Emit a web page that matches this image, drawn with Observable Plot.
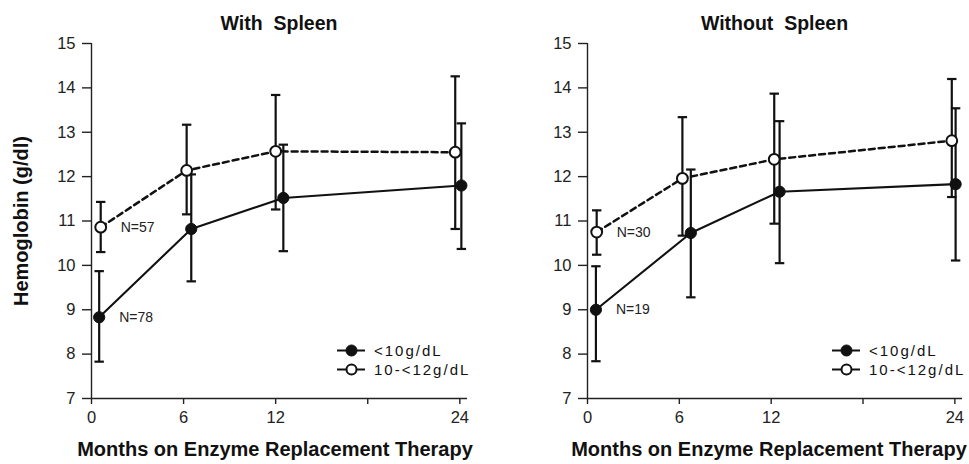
<!DOCTYPE html>
<html>
<head>
<meta charset="utf-8">
<script src="https://cdn.jsdelivr.net/npm/d3@7"></script>
<script src="https://cdn.jsdelivr.net/npm/@observablehq/plot@0.6"></script>
<style>
  body { margin: 0; background: #fff; font-family: "Liberation Sans", Arial, Helvetica, sans-serif; color: #111; }
  #root { position: relative; width: 969px; height: 464px; overflow: hidden; background: #fff; }
  .panel { position: absolute; top: 0; }
  .title { position: absolute; top: 14px; font-weight: bold; font-size: 19.5px; line-height: 19.5px; white-space: pre; transform: translateX(-50%); color: #111; }
  .xtitle { position: absolute; top: 439px; font-weight: bold; font-size: 20px; line-height: 20px; white-space: pre; transform: translateX(-50%); color: #111; }
  .legend { position: absolute; font-size: 15px; letter-spacing: 2px; color: #111; }
  .legend .row { display: flex; align-items: center; height: 19px; }
  .legend svg { display: block; }
  .legend span { margin-left: 8px; line-height: 19px; }
  .panel svg g[aria-label="y-axis label"] text { font-weight: bold; font-size: 20px !important; fill: #111; }
  .panel svg g[aria-label*="tick label"] text { fill: #222; font-size: 16.5px !important; }
  .panel svg g[aria-label="n label"] text { font-size: 14px !important; fill: #222; }
</style>
</head>
<body>
<div id="root"></div>
<script>
// ---- data ----
const panelTitles = ["With  Spleen", "Without  Spleen"];
const seriesNames = ["<10g/dL", "10-<12g/dL"];
const xTitle = "Months on Enzyme Replacement Therapy";
const yTitle = "Hemoglobin (g/dl)";
const yTicks = [7, 8, 9, 10, 11, 12, 13, 14, 15];
const xTicks = [0, 6, 12, 18, 24];
const xTickLabels = ["0", "6", "12", "", "24"];
const xDomain = [0, 24.5];
const yDomain = [7, 15];

// With Spleen, baseline <10 g/dL (closed)
const withLowMonth = [0.5, 6.5, 12.5, 24.1];
const withLowHb = [8.83, 10.82, 11.52, 11.80];
const withLowMin = [7.83, 9.64, 10.32, 10.37];
const withLowMax = [9.87, 12.05, 12.72, 13.20];
const withLowN = "N=78";
// With Spleen, baseline 10-<12 g/dL (open)
const withMidMonth = [0.6, 6.2, 12.0, 23.7];
const withMidHb = [10.86, 12.14, 12.57, 12.55];
const withMidMin = [10.30, 11.15, 11.26, 10.82];
const withMidMax = [11.43, 13.17, 13.84, 14.26];
const withMidN = "N=57";

// Without Spleen, baseline <10 g/dL (closed)
const woLowMonth = [0.55, 6.75, 12.55, 24.05];
const woLowHb = [9.00, 10.73, 11.66, 11.83];
const woLowMin = [7.84, 9.28, 10.05, 10.11];
const woLowMax = [9.98, 12.16, 13.25, 13.54];
const woLowN = "N=19";
// Without Spleen, baseline 10-<12 g/dL (open)
const woMidMonth = [0.6, 6.2, 12.2, 23.8];
const woMidHb = [10.75, 11.96, 12.39, 12.81];
const woMidMin = [10.24, 10.67, 10.94, 11.54];
const woMidMax = [11.24, 13.34, 13.87, 14.20];
const woMidN = "N=30";

// ---- build ----
function rows(month, hb, lo, hi) {
  return month.map((m, i) => ({month: m, hb: hb[i], lo: lo[i], hi: hi[i]}));
}
const capSymbol = {
  draw(context, size) {
    const r = Math.sqrt(size / Math.PI);
    context.moveTo(-r, 0);
    context.lineTo(r, 0);
  }
};

const layouts = [
  {left: 0, width: 484, marginLeft: 91, marginRight: 17, yLabel: true, legendLeft: 336, xTitleCenter: 275},
  {left: 484, width: 485, marginLeft: 103, marginRight: 7, yLabel: false, legendLeft: 831, xTitleCenter: 769}
];
const panelData = [
  {low: rows(withLowMonth, withLowHb, withLowMin, withLowMax), mid: rows(withMidMonth, withMidHb, withMidMin, withMidMax), nLow: withLowN, nMid: withMidN},
  {low: rows(woLowMonth, woLowHb, woLowMin, woLowMax), mid: rows(woMidMonth, woMidHb, woMidMin, woMidMax), nLow: woLowN, nMid: woMidN}
];

const root = document.getElementById("root");

panelData.forEach((pd, k) => {
  const L = layouts[k];
  const both = [...pd.low, ...pd.mid];
  const chart = Plot.plot({
    width: L.width,
    height: 464,
    marginTop: 43,
    marginBottom: 66,
    marginLeft: L.marginLeft,
    marginRight: L.marginRight,
    style: {fontFamily: "'Liberation Sans', Arial, Helvetica, sans-serif", fontSize: "16.5px", color: "#111", background: "transparent", overflow: "visible"},
    x: {domain: xDomain},
    y: {domain: yDomain},
    marks: [
      Plot.ruleX([xDomain[0]], {stroke: "#222", strokeWidth: 1.4}),
      Plot.ruleY([yDomain[0]], {stroke: "#222", strokeWidth: 1.4}),
      Plot.axisY({
        ticks: yTicks, tickSize: 9, tickPadding: 7, stroke: "#222", strokeWidth: 1.4, fontSize: 16.5,
        label: L.yLabel ? yTitle : null, labelAnchor: "center", labelOffset: 78, labelArrow: "none"
      }),
      Plot.axisX({
        ticks: xTicks, tickFormat: d => xTickLabels[xTicks.indexOf(d)],
        tickSize: 6, tickPadding: 7, stroke: "#222", strokeWidth: 1.4, fontSize: 16.5,
        label: null
      }),
      // error bars
      Plot.ruleX(both, {x: "month", y1: "lo", y2: "hi", stroke: "#111", strokeWidth: 2.2}),
      Plot.dot(both, {x: "month", y: "hi", symbol: capSymbol, r: 4.7, fill: "none", stroke: "#111", strokeWidth: 2.2}),
      Plot.dot(both, {x: "month", y: "lo", symbol: capSymbol, r: 4.7, fill: "none", stroke: "#111", strokeWidth: 2.2}),
      // lines
      Plot.line(pd.mid, {x: "month", y: "hb", stroke: "#111", strokeWidth: 2.5, strokeDasharray: "6,4"}),
      Plot.line(pd.low, {x: "month", y: "hb", stroke: "#111", strokeWidth: 2.1}),
      // points
      Plot.dot(pd.mid, {x: "month", y: "hb", r: 5.4, fill: "white", stroke: "#111", strokeWidth: 2}),
      Plot.dot(pd.low, {x: "month", y: "hb", r: 5.6, fill: "#111", stroke: "#111", strokeWidth: 1}),
      // N labels
      Plot.text([pd.mid[0]], {x: "month", y: "hb", text: () => pd.nMid, dx: 20, textAnchor: "start", fontSize: 14, fill: "#222", ariaLabel: "n label"}),
      Plot.text([pd.low[0]], {x: "month", y: "hb", text: () => pd.nLow, dx: 20, textAnchor: "start", fontSize: 14, fill: "#222", ariaLabel: "n label"})
    ]
  });
  const wrap = document.createElement("div");
  wrap.className = "panel";
  wrap.style.left = L.left + "px";
  wrap.appendChild(chart);
  root.appendChild(wrap);

  // panel title
  const t = document.createElement("div");
  t.className = "title";
  t.textContent = panelTitles[k];
  t.style.left = (L.left + (L.marginLeft + (L.width - L.marginRight)) / 2) + "px";
  root.appendChild(t);

  // x-axis title
  const xt = document.createElement("div");
  xt.className = "xtitle";
  xt.textContent = xTitle;
  xt.style.left = L.xTitleCenter + "px";
  root.appendChild(xt);

  // legend
  const lg = document.createElement("div");
  lg.className = "legend";
  lg.style.left = L.legendLeft + "px";
  lg.style.top = "340.5px";
  seriesNames.forEach((name, i) => {
    const row = document.createElement("div");
    row.className = "row";
    const filled = i === 0;
    row.innerHTML = `<svg width="30" height="19"><line x1="1" x2="29" y1="9.5" y2="9.5" stroke="#111" stroke-width="2"/>` +
      `<circle cx="15.5" cy="9.5" r="${filled ? 5.5 : 5}" fill="${filled ? "#111" : "#fff"}" stroke="#111" stroke-width="${filled ? 1 : 2}"/></svg>`;
    const s = document.createElement("span");
    s.textContent = name;
    row.appendChild(s);
    lg.appendChild(row);
  });
  root.appendChild(lg);
});
</script>
</body>
</html>
